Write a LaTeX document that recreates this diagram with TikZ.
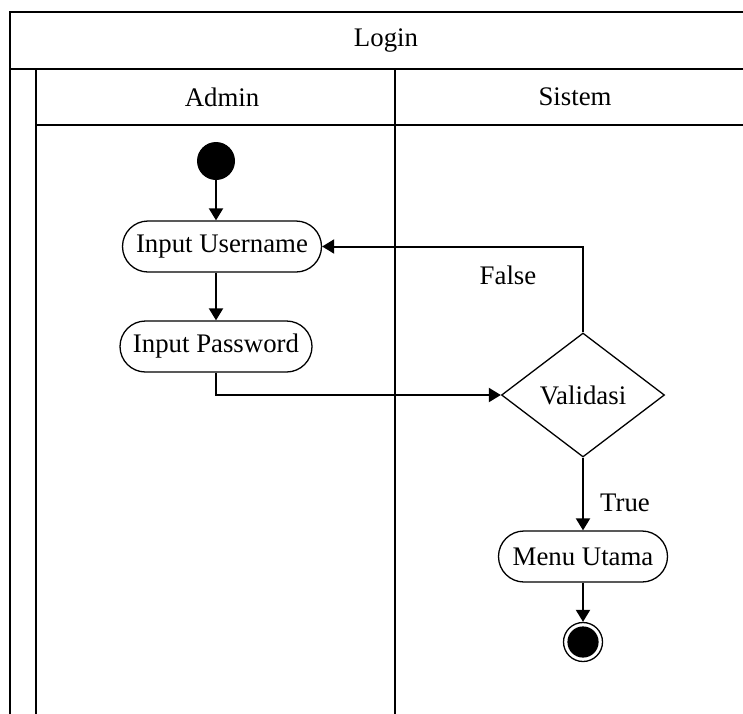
\documentclass[tikz,border=0pt]{standalone}
\usepackage{fontspec}
\setmainfont{Liberation Serif}
\usetikzlibrary{arrows.meta,shapes.geometric,shapes.misc}
\tikzset{
  lane/.style={line width=1pt},
  act/.style={rounded rectangle, draw, line width=0.65pt, minimum height=25.5pt, inner xsep=0pt},
  keputusan/.style={diamond, draw, line width=0.65pt, minimum width=81.5pt, minimum height=62pt, inner sep=0pt},
  awal/.style={circle, fill=black, minimum size=19pt, inner sep=0pt},
  akhir/.style={circle, draw, line width=0.65pt, minimum size=19.5pt, inner sep=0pt,
    path picture={\fill (path picture bounding box.center) circle (7.8pt);}},
  flow/.style={line width=1pt, -{Triangle[width=7pt,length=6pt]}},
}

\begin{document}
\begin{tikzpicture}[x=0.5pt,y=-0.5pt,font=\fontsize{13.4}{16}\selectfont]
  \useasboundingbox (0,0) rectangle (743,713);

  % swimlane frame
  \draw[lane] (746,12) -- (10,12) -- (10,714);
  \draw[line width=1.4pt] (10,69) -- (746,69);
  \draw[lane] (36,69) -- (36,714);
  \draw[lane] (395,69) -- (395,714);
  \draw[lane] (36,125) -- (746,125);

  \node (judul) at (386,41) {Login};
  \node (admin) at (222,97) {Admin};
  \node (sistem) at (575,97) {Sistem};

  % activities
  \node[awal] (mulai) at (216,161) {};
  \node[act, minimum width=99.5pt] (user) at (222,246.5) {Input Username};
  \node[act, minimum width=96pt] (pass) at (216,346.5) {Input Password};
  \node[keputusan] (valid) at (583,395) {Validasi};
  \node[act, minimum width=84.5pt] (menu) at (583,556.5) {Menu Utama};
  \node[akhir] (selesai) at (583,642) {};

  % flows
  \draw[flow] (mulai) -- (mulai |- user.north);
  \draw[flow] (user.south -| pass) -- (pass.north);
  \draw[flow] (pass.south) |- (valid.west);
  \draw[flow] (valid.north) |- (user.east);
  \draw[flow] (valid.south) -- (menu.north);
  \draw[flow] (menu.south) -- (selesai.north);

  \node (salah) at (508,275) {False};
  \node (benar) at (625,503) {True};
\end{tikzpicture}
\end{document}
